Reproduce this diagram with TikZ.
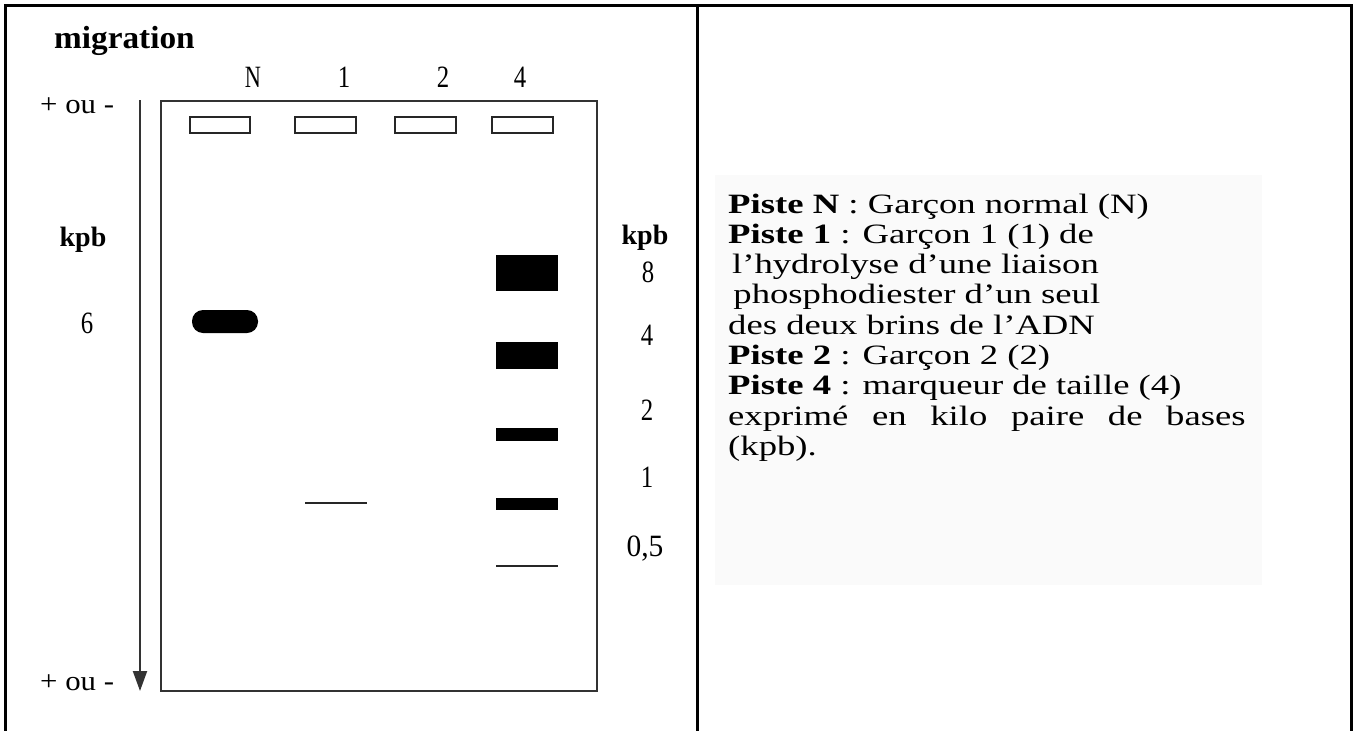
\documentclass[tikz,border=0pt]{standalone}
\usepackage{fontspec}
\setmainfont{Liberation Serif}
\usetikzlibrary{arrows.meta}
\newcommand\hstretch[2]{\scalebox{#1}[1]{#2}}
\begin{document}
\begin{tikzpicture}[x=1pt,y=-1pt,
  framerule/.style={line width=3.5pt},
  gelbox/.style={draw=black!80,line width=1.8pt},
  wellbox/.style={draw=black!85,line width=2pt},
  bandfill/.style={fill=black},
  thinband/.style={draw=black!85,line width=2.2pt},
  txt/.style={inner sep=0pt,anchor=base west},
  ctxt/.style={inner sep=0pt,anchor=base},
  lanelbl/.style={ctxt,font=\fontsize{31}{31}\selectfont},
  arrowline/.style={draw=black!80,line width=2pt,-{Triangle[length=20pt,width=14pt]}},
]
\useasboundingbox (0,0) rectangle (1355,731);

% table frame (open at the bottom) and column divider
\draw[framerule] (5.5,731) -- (5.5,5.5) -- (1351.5,5.5) -- (1351.5,731);
\draw[line width=3pt] (697,5.5) -- (697,731);

% legend background
\fill[black!2] (715,175) rectangle (1262,585);

% migration direction
\node[txt,font=\fontsize{32}{32}\selectfont\bfseries] (migr) at (54,48) {\hstretch{1.04}{migration}};
\node[txt,font=\fontsize{28}{28}\selectfont] (poltop) at (40,113) {\hstretch{1.1}{+ ou -}};
\node[txt,font=\fontsize{28}{28}\selectfont] (polbot) at (40,690) {\hstretch{1.1}{+ ou -}};
\coordinate (arrtop) at (140,100);
\coordinate (arrtip) at (140,691);
\draw[arrowline] (arrtop) -- (arrtip);

% gel
\node[gelbox,minimum width=436pt,minimum height=590pt,inner sep=0pt,anchor=north west] (gel) at (160,100) {};

% lane labels
\node[lanelbl] (lN) at (253,87) {\hstretch{0.72}{N}};
\node[lanelbl] (l1) at (344,87) {\hstretch{0.8}{1}};
\node[lanelbl] (l2) at (443,87) {\hstretch{0.8}{2}};
\node[lanelbl] (l4) at (520,87) {\hstretch{0.8}{4}};

% wells
\draw[wellbox] (190,117) rectangle (250,133);
\draw[wellbox] (295,117) rectangle (356,133);
\draw[wellbox] (395,117) rectangle (456,133);
\draw[wellbox] (492,117) rectangle (553,133);

% lane N: single band
\fill[bandfill,rounded corners=11pt] (192,310) rectangle (258,333);

% lane 1: faint band
\draw[thinband] (305,503) -- (367,503);

% lane 4: size marker
\fill[bandfill] (496,255) rectangle (558,291);
\fill[bandfill] (496,342) rectangle (558,369);
\fill[bandfill] (496,428) rectangle (558,441);
\fill[bandfill] (496,498) rectangle (558,510);
\draw[thinband] (496,566) -- (558,566);

% left scale
\node[ctxt,font=\fontsize{28}{28}\selectfont\bfseries] (kpbL) at (83,246) {\hstretch{1.0}{kpb}};
\node[lanelbl] (s6) at (87,333) {\hstretch{0.8}{6}};

% right scale
\node[ctxt,font=\fontsize{28}{28}\selectfont\bfseries] (kpbR) at (645,244) {\hstretch{1.0}{kpb}};
\node[lanelbl] (s8) at (648,282) {\hstretch{0.8}{8}};
\node[lanelbl] (s4) at (647,345) {\hstretch{0.8}{4}};
\node[lanelbl] (s2) at (647,420) {\hstretch{0.8}{2}};
\node[lanelbl] (s1) at (647,487) {\hstretch{0.8}{1}};
\node[lanelbl] (s05) at (645,556) {\hstretch{0.95}{0,5}};

% legend
\node[txt] (legend) at (728,213) {\hstretch{1.31}{\fontsize{28}{30.3}\selectfont
  \begin{tabular}[t]{@{}l@{}}
  \textbf{Piste N} : Garçon normal (N)\\
  \textbf{Piste 1} : Garçon 1 (1) de\\
  \hspace{3pt}l’hydrolyse d’une liaison\\
  \hspace{4pt}phosphodiester d’un seul\\
  des deux brins de l’ADN\\
  \textbf{Piste 2} : Garçon 2 (2)\\
  \textbf{Piste 4} : marqueur de taille (4)\\
  \makebox[395pt][s]{exprimé en kilo paire de bases}\\
  (kpb).
  \end{tabular}}};
\end{tikzpicture}
\end{document}
